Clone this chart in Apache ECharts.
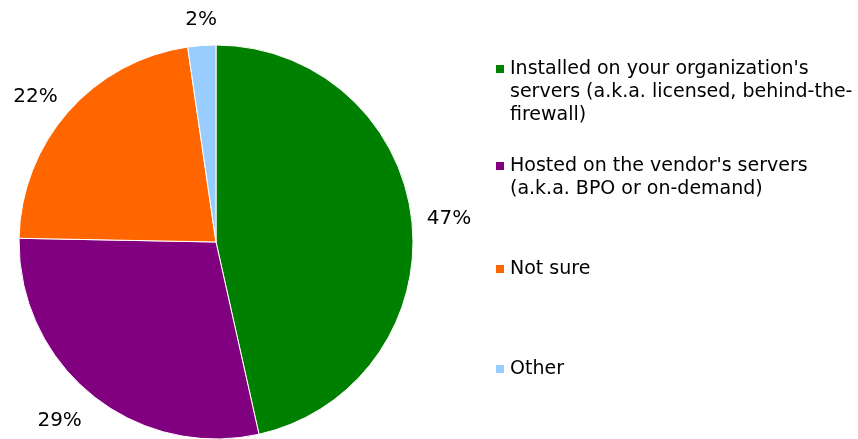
<!DOCTYPE html>
<html><head><meta charset="utf-8">
<script src="https://cdn.jsdelivr.net/npm/echarts@6/dist/echarts.min.js"></script>
<style>html,body{margin:0;padding:0;background:#fff}#c{width:858px;height:439px}</style>
</head><body><div id="c"></div>
<script>
const categories = [
  "Installed on your organization's servers (a.k.a. licensed, behind-the-firewall)",
  "Hosted on the vendor's servers (a.k.a. BPO or on-demand)",
  "Not sure",
  "Other"
];
const legendLines = [
  ["Installed on your organization's", "servers (a.k.a. licensed, behind-the-", "firewall)"],
  ["Hosted on the vendor's servers", "(a.k.a. BPO or on-demand)"],
  ["Not sure"],
  ["Other"]
];
const values = [46.5, 28.8, 22.4, 2.3];
const percentLabels = ["47%", "29%", "22%", "2%"];
const colors = ["#008000", "#800080", "#ff6600", "#99ccff"];

const FONT = "DejaVu Sans";
const LH = 23;
const legendIconTops = [65, 162, 265, 365];
// label line lengths (hidden lines) used to place the outside labels
const labelLen = [15, 34, 22, 26];
const labelLen2 = [-5, -17, -11, -22];

const chart = echarts.init(document.getElementById('c'), null, {renderer: 'canvas'});
const legends = categories.map((name, i) => {
  const n = legendLines[i].length;
  // pad with empty lines above so that the first text line sits beside the icon
  const text = '\n'.repeat(n - 1) + legendLines[i].join('\n');
  const offset = (2 * n - 1) * LH / 2 - 4;
  return {
    orient: 'vertical',
    left: 496,
    top: legendIconTops[i] - offset,
    padding: 0,
    itemWidth: 8,
    itemHeight: 8,
    icon: 'rect',
    itemStyle: {borderWidth: 0},
    selectedMode: false,
    formatter: () => text,
    data: [name],
    textStyle: {fontFamily: FONT, fontSize: 19, color: '#000', lineHeight: LH,
                padding: [0, 0, 0, 1]}
  };
});
chart.setOption({
  animation: false,
  color: colors,
  legend: legends,
  series: [{
    type: 'pie',
    center: [216, 242],
    radius: 197,
    startAngle: 90,
    clockwise: true,
    avoidLabelOverlap: false,
    itemStyle: {borderColor: '#fff', borderWidth: 1},
    label: {
      show: true, position: 'outside', bleedMargin: 0, overflow: 'none',
      fontFamily: FONT, fontSize: 20, color: '#000',
      formatter: p => percentLabels[p.dataIndex]
    },
    labelLine: {show: false},
    emphasis: {disabled: true},
    data: categories.map((c, i) => ({
      name: c, value: values[i],
      labelLine: {show: false, length: labelLen[i], length2: labelLen2[i]}
    }))
  }]
});
</script></body></html>
